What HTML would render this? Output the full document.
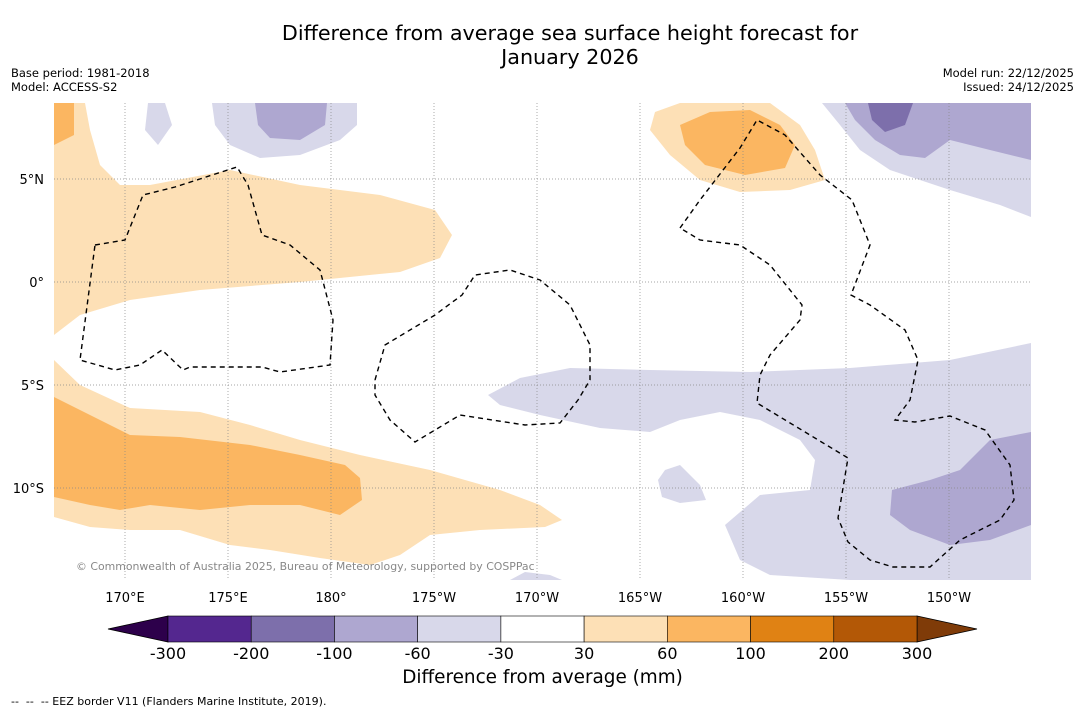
<!DOCTYPE html>
<html><head><meta charset="utf-8"><style>
body{margin:0;background:#fff;font-family:"DejaVu Sans",sans-serif;}
#wrap{position:relative;width:1085px;height:713px;overflow:hidden;background:#fff;}
.t{position:absolute;white-space:nowrap;color:#000;}
</style></head><body>
<div id="wrap">
<div class="t" style="left:0;width:1140px;top:21px;text-align:center;font-size:20.7px;line-height:24px;">Difference from average sea surface height forecast for<br>January 2026</div>
<div class="t" style="left:11px;top:66px;font-size:11.5px;line-height:14px;">Base period: 1981-2018<br>Model: ACCESS-S2</div>
<div class="t" style="right:11px;top:66px;font-size:11.5px;line-height:14px;text-align:right;">Model run: 22/12/2025<br>Issued: 24/12/2025</div>
<svg id="map" width="1085" height="713" style="position:absolute;left:0;top:0">
<defs><clipPath id="mc"><rect x="54" y="103" width="977" height="477"/></clipPath></defs>
<g clip-path="url(#mc)" stroke="none">
<polygon fill="#fde0b6" points="54,103 54,335 80,315 130,300 200,290 300,282 400,272 440,258 452,235 435,210 380,195 300,185 230,170 150,185 120,185 100,165 90,130 85,103"/>
<polygon fill="#fbb661" points="54,103 74,103 74,135 54,145"/>
<polygon fill="#fde0b6" points="54,360 80,385 130,408 200,412 250,425 300,440 360,455 430,470 500,490 540,505 562,520 545,527 480,530 430,535 400,555 370,565 320,558 270,550 230,545 180,530 130,530 90,527 54,517"/>
<polygon fill="#fbb661" points="54,397 90,415 130,435 180,437 250,445 300,455 345,465 360,478 362,500 340,515 300,505 250,505 200,510 150,505 120,510 90,505 54,497"/>
<polygon fill="#d8d8ea" points="212,103 357,103 357,125 340,140 300,155 260,158 230,145 215,125"/>
<polygon fill="#aea7d0" points="255,103 327,103 325,125 300,140 270,138 258,125"/>
<polygon fill="#d8d8ea" points="148,103 165,103 172,125 158,145 145,130"/>
<polygon fill="#fde0b6" points="655,112 680,103 770,103 800,125 815,150 825,180 790,190 740,192 700,180 670,155 650,130"/>
<polygon fill="#fbb661" points="680,125 710,112 750,110 780,125 795,145 785,168 745,175 705,165 685,145"/>
<polygon fill="#d8d8ea" points="822,103 1031,103 1031,217 1000,205 950,190 890,170 860,150 840,125"/>
<polygon fill="#aea7d0" points="845,103 1031,103 1031,160 990,150 950,140 925,158 900,155 875,140 855,120"/>
<polygon fill="#7d6fab" points="868,103 913,103 905,125 885,132 872,120"/>
<polygon fill="#d8d8ea" points="488,395 520,378 570,368 650,370 750,372 850,368 950,360 1031,343 1031,580 920,580 850,580 770,575 740,560 725,525 760,495 810,490 815,460 800,440 760,420 720,412 680,420 650,432 600,428 540,415 500,405"/>
<polygon fill="#d8d8ea" points="665,470 680,465 700,485 706,500 680,503 662,497 658,480"/>
<polygon fill="#aea7d0" points="892,490 930,480 960,470 990,440 1031,432 1031,525 990,540 950,545 910,530 890,515"/>
<polygon fill="#d8d8ea" points="510,580 525,572 550,575 562,580"/>
</g>
<g id="grid" stroke="#888" stroke-width="0.7" stroke-dasharray="1,2"></g>
<g fill="none" stroke="#000" stroke-width="1.4" stroke-dasharray="5,4" clip-path="url(#mc)">
<polyline points="95,245 125,240 143,195 175,187 237,167 248,185 262,235 290,245 320,270 333,320 330,365 280,372 262,367 190,367 183,370 162,350 140,365 115,370 80,360 95,245"/>
<polyline points="375,380 385,345 435,315 462,295 475,275 510,270 540,280 570,305 590,345 590,380 578,400 560,423 525,425 460,415 415,442 390,420 375,395 375,380"/>
<polyline points="680,228 700,200 740,148 757,120 785,135 820,175 852,200 870,245 851,295 870,305 905,330 918,360 910,400 895,420 915,422 950,416 985,430 1010,465 1014,500 1000,520 960,540 930,567 893,567 870,560 848,542 838,518 848,458 757,403 760,375 770,355 800,320 802,305 770,265 740,245 700,240 680,228"/>
</g>
<text x="76" y="570" font-size="10.9" fill="#888" font-family="DejaVu Sans, sans-serif">© Commonwealth of Australia 2025, Bureau of Meteorology, supported by COSPPac</text>
<g id="lonlabels" font-size="13" font-family="DejaVu Sans, sans-serif" text-anchor="middle"></g>
<g id="latlabels" font-size="13" font-family="DejaVu Sans, sans-serif" text-anchor="end"></g>
<g id="cbar"></g>
</svg>
<div class="t" style="left:0;width:1085px;top:667px;text-align:center;font-size:18.4px;">Difference from average (mm)</div>
<div class="t" style="left:11px;top:695px;font-size:11px;">-- &nbsp;-- &nbsp;-- EEZ border V11 (Flanders Marine Institute, 2019).</div>
</div>
<script>
const lonTicks=[170,175,180,-175,-170,-165,-160,-155,-150];
const lonLabels=["170°E","175°E","180°","175°W","170°W","165°W","160°W","155°W","150°W"];
const latTicks=[5,0,-5,-10];
const latLabels=["5°N","0°","5°S","10°S"];
const cbLevels=["-300","-200","-100","-60","-30","30","60","100","200","300"];
const cbColors=["#54278f","#7d6fab","#aea7d0","#d8d8ea","#ffffff","#fde0b6","#fbb661","#e08214","#b35806"];
const cbUnder="#2d004b", cbOver="#7f3b08";
const NS="http://www.w3.org/2000/svg";
function lx(lon){const e=lon<0?lon+360:lon;return 125+(e-170)*20.6;}
function ly(lat){return 282-lat*20.6;}
function mk(t,a,p){const e=document.createElementNS(NS,t);for(const k in a)e.setAttribute(k,a[k]);p.appendChild(e);return e;}
const grid=document.getElementById('grid'),lonG=document.getElementById('lonlabels'),latG=document.getElementById('latlabels'),cb=document.getElementById('cbar');
lonTicks.forEach((v,i)=>{const x=lx(v);
const l=mk('line',{x1:x,y1:103,x2:x,y2:580},grid);


const t=mk('text',{x:x,y:602},lonG);t.textContent=lonLabels[i];

});
latTicks.forEach((v,i)=>{const y=ly(v);
const l=mk('line',{x1:54,y1:y,x2:1031,y2:y},grid);


const t=mk('text',{x:44,y:y+5},latG);t.textContent=latLabels[i];

});
const x0=168,x1=917,y0=616,y1=642,w=(x1-x0)/cbColors.length;
const u=mk('polygon',{points:`${x0},${y0} ${x0},${y1} 108,${(y0+y1)/2}`,fill:cbUnder,stroke:'#000','stroke-width':0.8},cb);


const o=mk('polygon',{points:`${x1},${y0} ${x1},${y1} 977,${(y0+y1)/2}`,fill:cbOver,stroke:'#000','stroke-width':0.8},cb);


cbColors.forEach((c,i)=>{const r=mk('rect',{x:x0+i*w,y:y0,width:w,height:y1-y0,fill:c,stroke:'#000','stroke-width':0.6},cb);

});
cbLevels.forEach((v,i)=>{const t=mk('text',{x:x0+i*w,y:659,'font-size':16,'text-anchor':'middle','font-family':'DejaVu Sans, sans-serif'},cb);t.textContent=v;

});
</script>
</body></html>
